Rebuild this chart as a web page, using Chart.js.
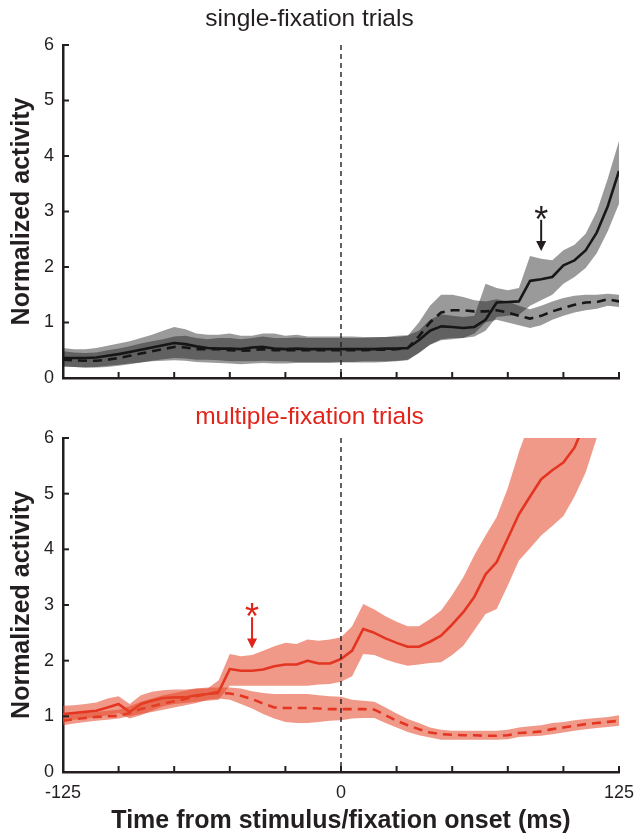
<!DOCTYPE html>
<html>
<head>
<meta charset="utf-8">
<script src="https://cdn.jsdelivr.net/npm/chart.js@4.4.1/dist/chart.umd.min.js"></script>
<style>
  html, body { margin: 0; padding: 0; background: #fff; }
  #wrap { position: relative; width: 636px; height: 836px; }
  .box { position: absolute; left: 0; width: 636px; }
</style>
</head>
<body>
<div id="wrap">
  <div class="box" style="top:0;height:400px"><canvas id="topChart"></canvas></div>
  <div class="box" style="top:400px;height:436px"><canvas id="bottomChart"></canvas></div>
</div>
<script>
/* ===== data (5 ms bins) ===== */
const timeMs = [-125,-120,-115,-110,-105,-100,-95,-90,-85,-80,-75,-70,-65,-60,-55,-50,-45,-40,-35,-30,-25,-20,-15,-10,-5,
  0,5,10,15,20,25,30,35,40,45,50,55,60,65,70,75,80,85,90,95,100,105,110,115,120,125];
const xTickLabels = [-125, 0, 125];

// single-fixation trials
const singleSolid = [0.36,0.36,0.36,0.37,0.40,0.43,0.47,0.51,0.55,0.59,0.63,0.61,0.57,0.54,0.53,0.53,0.52,0.55,0.56,0.53,0.52,0.53,0.52,0.52,0.52,
  0.52,0.52,0.52,0.52,0.53,0.53,0.54,0.68,0.85,0.93,0.92,0.90,0.92,1.05,1.36,1.37,1.38,1.75,1.78,1.82,2.03,2.12,2.30,2.62,3.10,3.73];
const singleSolidHi = [0.54,0.52,0.52,0.54,0.58,0.62,0.66,0.72,0.78,0.85,0.92,0.88,0.80,0.78,0.78,0.80,0.76,0.76,0.80,0.80,0.76,0.78,0.75,0.75,0.75,
  0.75,0.75,0.74,0.74,0.74,0.76,0.77,0.85,1.05,1.15,1.12,1.10,1.12,1.70,1.62,1.58,1.62,2.20,2.15,2.12,2.30,2.40,2.60,3.00,3.60,4.27];
const singleSolidLo = [0.22,0.20,0.19,0.20,0.22,0.24,0.26,0.28,0.30,0.31,0.32,0.31,0.29,0.28,0.27,0.26,0.25,0.26,0.27,0.26,0.26,0.27,0.27,0.27,0.27,
  0.28,0.28,0.28,0.28,0.29,0.30,0.32,0.45,0.60,0.70,0.72,0.72,0.75,0.85,1.10,1.12,1.14,1.30,1.40,1.50,1.70,1.82,1.98,2.25,2.65,3.14];
const singleDashed = [0.33,0.32,0.31,0.31,0.33,0.36,0.40,0.44,0.48,0.52,0.56,0.55,0.52,0.52,0.52,0.50,0.49,0.50,0.52,0.50,0.50,0.50,0.50,0.50,0.50,
  0.50,0.50,0.50,0.51,0.51,0.52,0.54,0.75,1.00,1.18,1.22,1.22,1.20,1.20,1.22,1.18,1.12,1.07,1.12,1.20,1.26,1.32,1.36,1.37,1.42,1.38];
const singleDashedHi = [0.48,0.46,0.45,0.46,0.50,0.53,0.57,0.62,0.66,0.70,0.75,0.76,0.72,0.70,0.72,0.72,0.70,0.72,0.75,0.72,0.72,0.73,0.72,0.72,0.72,
  0.72,0.72,0.72,0.73,0.74,0.74,0.76,1.00,1.30,1.50,1.50,1.46,1.40,1.38,1.42,1.38,1.30,1.24,1.30,1.38,1.44,1.48,1.50,1.50,1.52,1.50];
const singleDashedLo = [0.20,0.20,0.19,0.19,0.20,0.22,0.25,0.28,0.31,0.34,0.36,0.35,0.33,0.33,0.32,0.30,0.30,0.30,0.31,0.30,0.30,0.29,0.29,0.29,0.29,
  0.29,0.29,0.30,0.30,0.30,0.31,0.33,0.45,0.60,0.68,0.70,0.72,0.80,1.00,1.05,1.00,0.95,0.90,0.95,1.05,1.12,1.18,1.22,1.25,1.30,1.28];

// multiple-fixation trials (values above 6 run off the top and are clipped)
const multiSolid = [1.04,1.06,1.08,1.10,1.16,1.22,1.08,1.22,1.28,1.33,1.34,1.34,1.38,1.40,1.44,1.85,1.82,1.82,1.84,1.90,1.93,1.93,2.00,1.95,1.95,
  2.03,2.18,2.57,2.50,2.40,2.32,2.25,2.25,2.34,2.45,2.65,2.87,3.15,3.55,3.77,4.20,4.63,4.95,5.26,5.42,5.56,5.83,6.30,6.80,7.30,7.80];
const multiSolidHi = [1.19,1.20,1.22,1.25,1.32,1.36,1.22,1.38,1.44,1.47,1.48,1.48,1.50,1.50,1.65,2.12,2.08,2.10,2.18,2.26,2.32,2.30,2.38,2.36,2.38,
  2.42,2.62,3.02,2.92,2.80,2.70,2.62,2.62,2.75,2.90,3.18,3.50,3.90,4.25,4.58,5.10,5.75,6.30,6.80,7.30,7.80,8.30,8.80,9.30,9.80,10.30];
const multiSolidLo = [0.92,0.94,0.96,0.98,1.02,1.06,0.96,1.02,1.10,1.18,1.22,1.24,1.26,1.28,1.30,1.55,1.55,1.55,1.55,1.55,1.55,1.55,1.55,1.57,1.58,
  1.62,1.72,2.12,2.10,2.02,1.96,1.91,1.93,1.96,1.97,2.10,2.27,2.55,2.84,2.93,3.35,3.80,4.02,4.25,4.42,4.60,4.95,5.38,6.00,6.70,7.40];
const multiDashed = [0.92,0.95,0.97,0.99,1.00,1.01,1.06,1.13,1.18,1.23,1.27,1.31,1.36,1.40,1.42,1.41,1.37,1.31,1.23,1.16,1.15,1.15,1.15,1.14,1.13,
  1.13,1.13,1.13,1.12,1.02,0.92,0.84,0.77,0.71,0.68,0.67,0.66,0.66,0.65,0.65,0.66,0.70,0.71,0.73,0.77,0.80,0.83,0.86,0.88,0.90,0.92];
const multiDashedHi = [1.02,1.04,1.06,1.08,1.10,1.12,1.18,1.26,1.32,1.38,1.42,1.46,1.50,1.52,1.52,1.52,1.50,1.45,1.42,1.40,1.40,1.40,1.40,1.38,1.36,
  1.35,1.30,1.28,1.26,1.16,1.05,0.95,0.88,0.80,0.76,0.74,0.74,0.74,0.74,0.74,0.76,0.80,0.82,0.84,0.88,0.90,0.93,0.95,0.97,0.99,1.02];
const multiDashedLo = [0.84,0.87,0.90,0.92,0.94,0.96,1.00,1.04,1.08,1.12,1.16,1.20,1.24,1.30,1.32,1.30,1.22,1.14,1.04,0.96,0.90,0.88,0.88,0.90,0.92,
  0.93,0.96,0.97,0.97,0.88,0.80,0.72,0.66,0.62,0.58,0.58,0.58,0.58,0.58,0.58,0.59,0.63,0.64,0.65,0.68,0.71,0.74,0.77,0.79,0.81,0.83];

// significance markers: [time, star value, arrow start, arrow tip]
const singleMarker = [90, 2.98, 2.85, 2.29];
const multiMarker = [-40, 2.91, 2.78, 2.22];

/* ===== styling ===== */
const INK = '#231f20';
const RED = '#e2231a';
Chart.defaults.font.family = "'Liberation Sans', Arial, sans-serif";
Chart.defaults.color = INK;

const pts = arr => arr.map((v, i) => ({ x: timeMs[i], y: v }));

function bandSets(hi, lo, fillColor) {
    return [
        { data: pts(hi), borderWidth: 0, pointRadius: 0, fill: '+1', backgroundColor: fillColor, tension: 0 },
        { data: pts(lo), borderWidth: 0, pointRadius: 0, fill: false, tension: 0 }
    ];
}
function lineSet(arr, color, dashed) {
    return { data: pts(arr), borderColor: color, borderWidth: 2.6, pointRadius: 0, fill: false, tension: 0,
        borderDash: dashed ? [9, 6] : [], borderCapStyle: 'butt', borderJoinStyle: 'round' };
}

const frame = {
    id: 'frame',
    afterDatasetsDraw(chart) {
        const { ctx, chartArea: a, scales: { x, y } } = chart;
        ctx.save();
        // zero line
        const x0 = x.getPixelForValue(0);
        ctx.strokeStyle = INK; ctx.lineWidth = 1.4; ctx.setLineDash([5, 4]);
        ctx.beginPath(); ctx.moveTo(x0, a.top); ctx.lineTo(x0, a.bottom); ctx.stroke();
        ctx.setLineDash([]);
        // inward ticks
        ctx.lineWidth = 2;
        x.ticks.forEach(t => { const px = x.getPixelForValue(t.value); ctx.beginPath(); ctx.moveTo(px, a.bottom); ctx.lineTo(px, a.bottom - 6); ctx.stroke(); });
        y.ticks.forEach(t => { const py = y.getPixelForValue(t.value); ctx.beginPath(); ctx.moveTo(a.left, py); ctx.lineTo(a.left + 6, py); ctx.stroke(); });
        // marker
        const m = chart.options.plugins.frame.marker, col = chart.options.plugins.frame.markerColor;
        const mx = x.getPixelForValue(m[0]);
        const sy = y.getPixelForValue(m[1]), ay = y.getPixelForValue(m[2]), ty = y.getPixelForValue(m[3]);
        ctx.fillStyle = col; ctx.strokeStyle = col;
        ctx.font = "36px 'Liberation Sans', Arial, sans-serif";
        ctx.textAlign = 'center'; ctx.textBaseline = 'alphabetic';
        ctx.fillText('*', mx, sy + 19);
        ctx.lineWidth = 2;
        ctx.beginPath(); ctx.moveTo(mx, ay); ctx.lineTo(mx, ty - 8); ctx.stroke();
        ctx.beginPath(); ctx.moveTo(mx - 5, ty - 10); ctx.lineTo(mx + 5, ty - 10); ctx.lineTo(mx, ty); ctx.closePath(); ctx.fill();
        ctx.restore();
    }
};

function makeChart(id, opts) {
    const datasets = [
        ...bandSets(opts.solidHi, opts.solidLo, opts.band),
        ...bandSets(opts.dashedHi, opts.dashedLo, opts.band),
        lineSet(opts.dashed, opts.line, true),
        lineSet(opts.solid, opts.line, false)
    ];
    return new Chart(document.getElementById(id), {
        type: 'line',
        data: { datasets },
        plugins: [frame],
        options: {
            responsive: true, maintainAspectRatio: false, animation: false,
            layout: { padding: { left: 0, right: 17, top: 0, bottom: 0 } },
            plugins: {
                legend: { display: false }, tooltip: { enabled: false },
                title: { display: true, text: opts.title, color: opts.titleColor,
                    font: { size: 24.5, weight: 'normal' }, padding: opts.titlePad },
                frame: { marker: opts.marker, markerColor: opts.markerColor }
            },
            scales: {
                x: {
                    type: 'linear', min: -125, max: 125,
                    grid: { display: false, drawTicks: false },
                    border: { display: true, color: INK, width: 2.5 },
                    ticks: { display: opts.showX, stepSize: 25, autoSkip: false, maxRotation: 0, padding: 10,
                        font: { size: 18 }, color: INK,
                        callback: v => xTickLabels.includes(v) ? String(v) : '' },
                    title: { display: opts.showX, text: 'Time from stimulus/fixation onset (ms)', color: INK,
                        font: { size: 25, weight: 'bold' }, padding: { top: 0, bottom: 0 } },
                    afterFit: s => { s.height = opts.xHeight; s.paddingLeft = 0; s.paddingRight = 0; }
                },
                y: {
                    min: 0, max: 6,
                    grid: { display: false, drawTicks: false },
                    border: { display: true, color: INK, width: 2.5 },
                    ticks: { stepSize: 1, padding: 9, font: { size: 18 }, color: INK },
                    title: { display: true, text: 'Normalized activity', color: INK,
                        font: { size: 25, weight: 'bold' }, padding: { top: 7.5, bottom: 0 } },
                    afterFit: s => { s.width = 63; }
                }
            }
        }
    });
}

makeChart('topChart', {
    title: 'single-fixation trials', titleColor: INK, titlePad: { top: 5, bottom: 10.6 },
    solid: singleSolid, solidHi: singleSolidHi, solidLo: singleSolidLo,
    dashed: singleDashed, dashedHi: singleDashedHi, dashedLo: singleDashedLo,
    band: 'rgba(20,20,24,0.43)', line: '#1a1a1a',
    marker: singleMarker, markerColor: INK, showX: false, xHeight: 22
});

makeChart('bottomChart', {
    title: 'multiple-fixation trials', titleColor: RED, titlePad: { top: 3, bottom: 5.6 },
    solid: multiSolid, solidHi: multiSolidHi, solidLo: multiSolidLo,
    dashed: multiDashed, dashedHi: multiDashedHi, dashedLo: multiDashedLo,
    band: 'rgba(228,70,40,0.55)', line: RED,
    marker: multiMarker, markerColor: RED, showX: true, xHeight: 64
});
</script>
</body>
</html>
